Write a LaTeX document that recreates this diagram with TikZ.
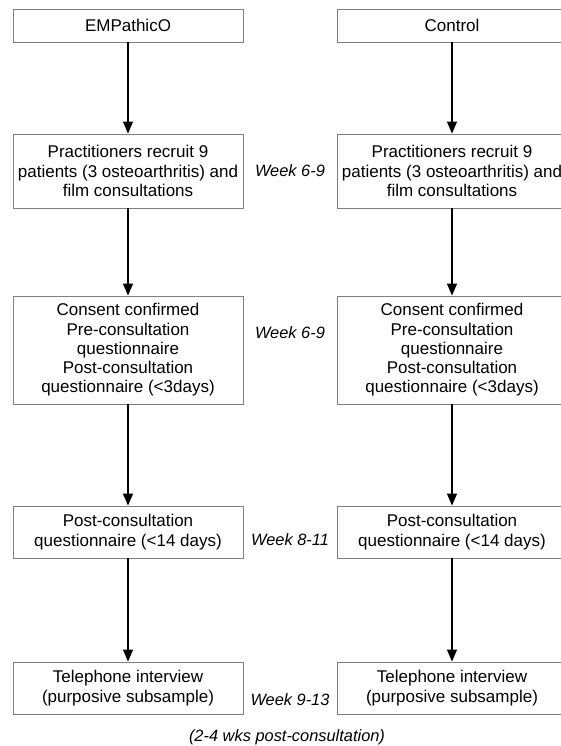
\documentclass[tikz,border=0pt]{standalone}
\usepackage{fontspec}
\setmainfont{Liberation Sans}
\usetikzlibrary{arrows.meta}
\definecolor{boxgray}{RGB}{128,128,128}

\begin{document}
\begin{tikzpicture}[x=1pt,y=-1pt,
	    box/.style={draw=boxgray,line width=0.9pt,minimum width=230pt,inner sep=0pt,
	        align=center,font=\fontsize{17}{19.3}\selectfont},
	    week/.style={font=\fontsize{16.4}{19.5}\selectfont\itshape,inner sep=0pt},
	    arr/.style={line width=1.4pt,-{Triangle[width=10pt,length=12pt]}}]
	    \useasboundingbox (0,0) rectangle (560,746);
	    % left column
	    \node[box,minimum height=33pt] (empA) at (128,25.5) {EMPathicO};
	    \node[box,minimum height=74pt] (empB) at (128,171) {Practitioners recruit 9\\patients (3 osteoarthritis) and\\film consultations};
	    \node[box,minimum height=108pt] (empC) at (128,350) {Consent confirmed\\Pre-consultation\\questionnaire\\Post-consultation\\questionnaire (<3days)};
	    \node[box,minimum height=52pt] (empD) at (128,532) {Post-consultation\\questionnaire (<14 days)};
	    \node[box,minimum height=52pt] (empE) at (128,688) {Telephone interview\\(purposive subsample)};
	    % right column
	    \node[box,minimum height=33pt] (conA) at (452,25.5) {Control};
	    \node[box,minimum height=74pt] (conB) at (452,171) {Practitioners recruit 9\\patients (3 osteoarthritis) and\\film consultations};
	    \node[box,minimum height=108pt] (conC) at (452,350) {Consent confirmed\\Pre-consultation\\questionnaire\\Post-consultation\\questionnaire (<3days)};
	    \node[box,minimum height=52pt] (conD) at (452,532) {Post-consultation\\questionnaire (<14 days)};
	    \node[box,minimum height=52pt] (conE) at (452,688) {Telephone interview\\(purposive subsample)};
	    % arrows
	    \draw[arr] (empA) -- (empB);
	    \draw[arr] (empB) -- (empC);
	    \draw[arr] (empC) -- (empD);
	    \draw[arr] (empD) -- (empE);
	    \draw[arr] (conA) -- (conB);
	    \draw[arr] (conB) -- (conC);
	    \draw[arr] (conC) -- (conD);
	    \draw[arr] (conD) -- (conE);
	    % weeks in the middle
	    \node[week] (wkB) at (290,171) {Week 6-9};
	    \node[week] (wkC) at (290,333) {Week 6-9};
	    \node[week] (wkD) at (290,540) {Week 8-11};
	    \node[week] (wkE) at (290,700) {Week 9-13};
	    \node[week] (wkNote) at (287,737.5) {(2-4 wks post-consultation)};
	\end{tikzpicture}
\end{document}
